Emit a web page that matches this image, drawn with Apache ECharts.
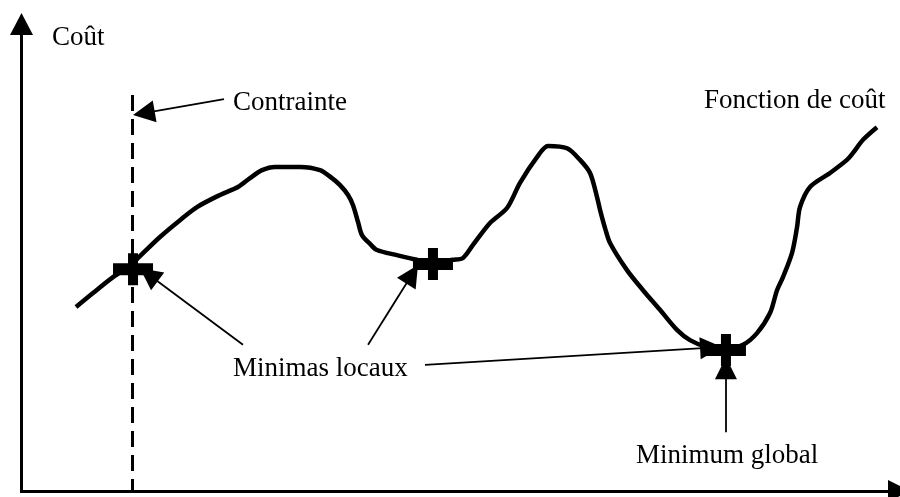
<!DOCTYPE html>
<html>
<head>
<meta charset="utf-8">
<script src="https://cdn.jsdelivr.net/npm/echarts@6/dist/echarts.min.js"></script>
<style>
  html, body { margin: 0; padding: 0; background: #fff; }
  #main { width: 900px; height: 497px; }
</style>
</head>
<body>
<div id="main"></div>
<script>
// fonction de coût (x = paramètre, y = coût)
const curveX = [6.21, 8.15, 10.43, 12.36, 13.5, 15.78, 18.06, 20.0, 22.62, 24.67, 26.04, 27.41, 28.89, 31.74, 34.02, 35.38,
  36.3, 37.21, 37.78, 38.35, 38.8, 39.72, 40.51, 42.79, 45.07, 47.12, 49.17, 50.31, 51.45, 53.39, 55.33, 56.81,
  58.75, 60.0, 62.17, 63.65, 64.79, 65.58, 65.93, 66.5, 67.07, 69.0, 70.83, 72.76, 74.7, 76.18, 78.12, 80.17,
  82.22, 83.82, 85.3, 86.1, 86.78, 87.81, 88.38, 88.72, 89.86, 92.14, 94.07, 94.76, 95.9, 97.49];
const curveY = [39.4, 42.4, 45.8, 48.2, 50.3, 54.4, 58.0, 60.8, 63.4, 65.1, 67.0, 68.7, 69.4, 69.4, 68.7, 67.0,
  65.5, 63.4, 61.2, 57.6, 54.8, 52.9, 51.6, 50.5, 49.5, 49.0, 49.5, 49.9, 52.7, 57.4, 60.6, 66.0,
  71.5, 73.9, 73.4, 70.9, 68.1, 63.0, 60.2, 56.3, 53.1, 47.3, 43.0, 38.8, 34.5, 32.3, 30.8, 30.4,
  31.3, 33.8, 38.1, 43.0, 45.8, 51.0, 56.5, 60.8, 65.1, 68.1, 70.9, 72.4, 75.2, 77.9];

// minimas (deux locaux, un global)
const minimaX = [12.71, 46.89, 80.28];
const minimaY = [47.5, 48.6, 30.2];

// contrainte
const constraintX = 12.65;
const constraintTop = 84.8;

// flèches d'annotation : départ -> arrivée
const arrowFrom = [[23.08, 83.9], [25.24, 31.3], [39.49, 31.3], [45.98, 27.0], [80.28, 12.6]];
const arrowTo = [[13.94, 80.9], [14.51, 46.3], [44.52, 46.4], [78.58, 30.7], [80.28, 26.3]];

var chartDom = document.getElementById('main');
var myChart = echarts.init(chartDom);

var serif = '"Liberation Serif", "Times New Roman", serif';
var textStyle = { fontFamily: serif, fontSize: 27, fill: '#000', verticalAlign: 'middle' };

var axisCommon = {
  type: 'value',
  min: 0,
  max: 100,
  axisLine: {
    show: true,
    symbol: ['none', 'triangle'],
    symbolSize: [22, 22],
    lineStyle: { color: '#000', width: 3, cap: 'square' }
  },
  axisTick: { show: false },
  axisLabel: { show: false },
  splitLine: { show: false }
};

var option = {
  animation: false,
  backgroundColor: '#fff',
  grid: { left: 21.5, right: 1, top: 24, bottom: 6 },
  xAxis: Object.assign({}, axisCommon),
  yAxis: Object.assign({}, axisCommon, {
    axisLine: Object.assign({}, axisCommon.axisLine, { symbolSize: [23, 22] })
  }),
  graphic: [
    { type: 'text', x: 52, y: 38, style: Object.assign({ text: 'Coût' }, textStyle) },
    { type: 'text', x: 233, y: 103, style: Object.assign({ text: 'Contrainte' }, textStyle) },
    { type: 'text', x: 704, y: 101, style: Object.assign({ text: 'Fonction de coût' }, textStyle) },
    { type: 'text', x: 233, y: 369, style: Object.assign({ text: 'Minimas locaux' }, textStyle) },
    { type: 'text', x: 636, y: 456, style: Object.assign({ text: 'Minimum global' }, textStyle) }
  ],
  series: [
    {
      // contrainte en pointillés
      type: 'line',
      data: [[constraintX, constraintTop], [constraintX, 0]],
      showSymbol: false,
      lineStyle: { color: '#000', width: 3, type: [16, 8] },
      z: 2
    },
    {
      type: 'line',
      data: curveX.map(function (x, i) { return [x, curveY[i]]; }),
      showSymbol: false,
      smooth: 0.3,
      lineStyle: { color: '#000', width: 4.5 },
      z: 3
    },
    {
      type: 'scatter',
      data: minimaX.map(function (x, i) { return [x, minimaY[i]]; }),
      symbol: 'path://M15,0 H25 V10 H40 V22 H25 V32 H15 V22 H0 V10 H15 Z',
      symbolSize: [40, 32],
      itemStyle: { color: '#000', opacity: 1 },
      z: 4
    },
    {
      type: 'lines',
      coordinateSystem: 'cartesian2d',
      data: arrowFrom.map(function (p, i) { return { coords: [p, arrowTo[i]] }; }),
      symbol: ['none', 'triangle'],
      symbolSize: 22,
      lineStyle: { color: '#000', width: 1.8, opacity: 1 },
      z: 5
    }
  ]
};

myChart.setOption(option);
</script>
</body>
</html>
